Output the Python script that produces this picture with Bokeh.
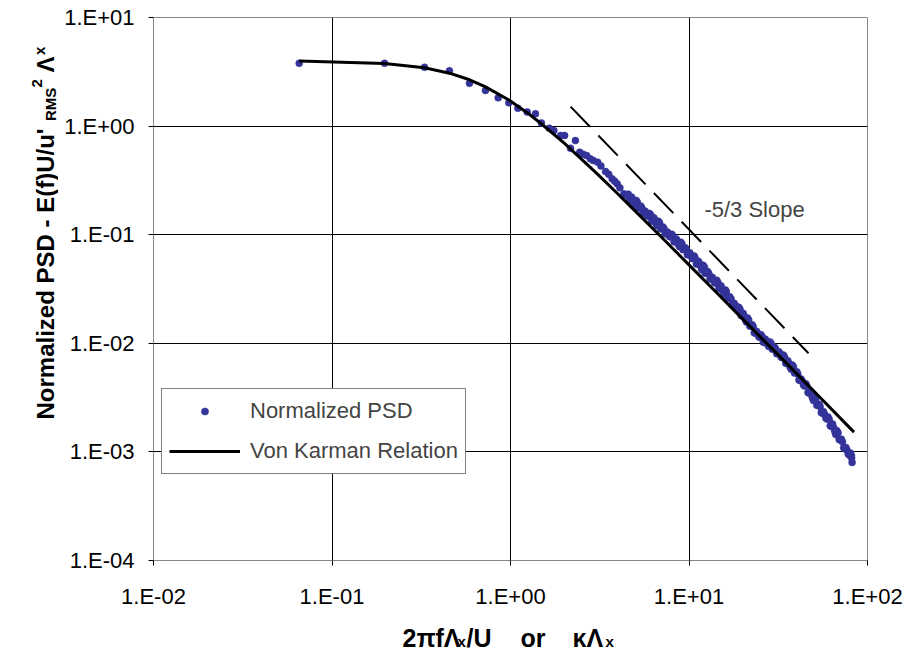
import math
from bokeh.plotting import figure
from bokeh.layouts import row, column
from bokeh.models import (Range1d, FixedTicker, CustomJSTickFormatter, Label, Legend, LegendItem)
from bokeh.embed import file_html
from bokeh.resources import INLINE

# ---------------- data ----------------
psd_x = [0.0655, 0.197, 0.330, 0.455, 0.589, 0.724, 0.853, 0.978, 1.10, 1.24,
         1.38, 1.49, 1.65, 1.75, 1.91, 2.01, 2.17, 2.31, 2.44, 2.55,
         2.67, 2.80, 2.91, 3.08, 3.21, 3.41, 3.55, 3.71, 3.84, 3.96,
         4.10, 4.32, 4.46,
         4.57, 4.70, 4.84, 4.98, 5.13, 5.28, 5.43, 5.59, 5.75, 5.92,
         6.10, 6.27, 6.46, 6.64, 6.84, 7.04, 7.24, 7.46, 7.67, 7.90,
         8.13, 8.37, 8.61, 8.86, 9.12, 9.39, 9.66, 9.94, 10.2, 10.5,
         10.8, 11.2, 11.5, 11.8, 12.2, 12.5, 12.9, 13.3, 13.6, 14.0,
         14.5, 14.9, 15.3, 15.8, 16.2, 16.7, 17.2, 17.7, 18.2, 18.7,
         19.3, 19.8, 20.4, 21.0, 21.6, 22.3, 22.9, 23.6, 24.3, 25.0,
         25.7, 26.5, 27.2, 28.0, 28.8, 29.7, 30.5, 31.4, 32.4, 33.3,
         34.3, 35.3, 36.3, 37.4, 38.5, 39.6, 40.7, 41.9, 43.2, 44.4,
         45.7, 47.0, 48.4, 49.8, 51.3, 52.8, 54.3, 55.9, 57.5, 59.2,
         61.0, 62.7, 64.6, 66.4, 68.4, 70.4, 72.4, 74.6, 76.7, 79.0,
         81.3, 81.5, 82.0,
         4.64, 4.77, 4.91, 5.06, 5.20, 5.36, 5.51, 5.67, 5.84, 6.01,
         6.18, 6.36, 6.55, 6.74, 6.94, 7.14, 7.35, 7.56, 7.78, 8.01,
         8.25, 8.49, 8.74, 8.99, 9.25, 9.52, 9.80, 10.1, 10.4, 10.7,
         11.0, 11.3, 11.7, 12.0, 12.3, 12.7, 13.1, 13.5, 13.9, 14.3,
         14.7, 15.1, 15.5, 16.0, 16.5, 16.9, 17.4, 17.9, 18.5, 19.0,
         19.6, 20.1, 20.7, 21.3, 21.9, 22.6, 23.2, 23.9, 24.6, 25.3,
         26.1, 26.8, 27.6, 28.4, 29.3, 30.1, 31.0, 31.9, 32.8, 33.8,
         34.8, 35.8, 36.8, 37.9, 39.0, 40.2, 41.3, 42.5, 43.8, 45.1,
         46.4, 47.7, 49.1, 50.6, 52.0, 53.6, 55.1, 56.7, 58.4, 60.1,
         61.8, 63.7, 65.5, 67.4, 69.4, 71.4, 73.5, 75.7, 77.9, 80.1]
psd_y = [3.79, 3.79, 3.48, 3.23, 2.48, 2.13, 1.82, 1.64, 1.46, 1.35,
         1.30, 1.07, 0.957, 0.91, 0.82, 0.82, 0.626, 0.736, 0.575, 0.55,
         0.536, 0.50, 0.482, 0.465, 0.43, 0.382, 0.36, 0.327, 0.31, 0.294,
         0.27, 0.238, 0.23,
         0.236, 0.208, 0.210, 0.188, 0.200, 0.178, 0.178, 0.159, 0.159, 0.148,
         0.152, 0.134, 0.135, 0.121, 0.129, 0.115, 0.114, 0.102, 0.102, 0.0951,
         0.0975, 0.0859, 0.0867, 0.0774, 0.0826, 0.0736, 0.0733, 0.0655, 0.0653, 0.0602,
         0.0612, 0.0536, 0.0537, 0.0476, 0.0504, 0.0446, 0.0441, 0.0390, 0.0389, 0.0359,
         0.0365, 0.0320, 0.0320, 0.0284, 0.0298, 0.0262, 0.0257, 0.0226, 0.0223, 0.0204,
         0.0206, 0.0179, 0.0178, 0.0157, 0.0164, 0.0144, 0.0142, 0.0124, 0.0123, 0.0113,
         0.0115, 0.0102, 0.0104, 0.00932, 0.00999, 0.00896, 0.00897, 0.00804, 0.00802, 0.00737,
         0.00747, 0.00653, 0.00652, 0.00576, 0.00607, 0.00537, 0.00522, 0.00455, 0.00446, 0.00404,
         0.00405, 0.00348, 0.00342, 0.00298, 0.00309, 0.00269, 0.00261, 0.00227, 0.00222, 0.00201,
         0.00200, 0.00172, 0.00168, 0.00145, 0.00150, 0.00129, 0.00124, 0.00107, 0.00104, 0.000935,
         0.000927, 0.00088, 0.00080,
         0.208, 0.222, 0.196, 0.207, 0.176, 0.184, 0.158, 0.165, 0.150, 0.157,
         0.134, 0.143, 0.126, 0.133, 0.113, 0.118, 0.102, 0.106, 0.0961, 0.101,
         0.0859, 0.0915, 0.0810, 0.0854, 0.0728, 0.0760, 0.0654, 0.0681, 0.0611, 0.0637,
         0.0538, 0.0569, 0.0500, 0.0523, 0.0442, 0.0459, 0.0392, 0.0406, 0.0364, 0.0380,
         0.0321, 0.0339, 0.0298, 0.0310, 0.0261, 0.0268, 0.0227, 0.0234, 0.0208, 0.0215,
         0.0180, 0.0189, 0.0165, 0.0171, 0.0144, 0.0148, 0.0125, 0.0129, 0.0115, 0.0120,
         0.0102, 0.0109, 0.00973, 0.0103, 0.00883, 0.00927, 0.00801, 0.00836, 0.00748, 0.00779,
         0.00656, 0.00692, 0.00605, 0.00632, 0.00533, 0.00548, 0.00460, 0.00469, 0.00413, 0.00424,
         0.00352, 0.00366, 0.00316, 0.00324, 0.00269, 0.00274, 0.00230, 0.00234, 0.00205, 0.00210,
         0.00174, 0.00181, 0.00155, 0.00157, 0.00130, 0.00131, 0.00109, 0.00110, 0.000961, 0.000977]

vk_x = [0.0655, 0.197, 0.33, 0.455, 0.59, 0.72, 0.98, 1.24, 1.5, 2.0,
        3.0, 4.0, 5.0, 7.0, 10.0, 15.0, 20.0, 30.0, 50.0, 84.0]
vk_y = [3.97, 3.78, 3.45, 3.07, 2.67, 2.31, 1.74, 1.33, 1.04, 0.696,
        0.375, 0.237, 0.165, 0.0952, 0.0528, 0.0270, 0.0167, 0.00851, 0.00364, 0.00152]

slope_x = [2.17, 46.7]
slope_y = [1.51, 0.0081]

x_ticks = [0.01, 0.1, 1, 10, 100]
y_ticks = [0.0001, 0.001, 0.01, 0.1, 1, 10]

series_names = ["Normalized PSD", "Von Karman Relation"]
slope_text = "-5/3 Slope"

FONT = "Liberation Sans"
TICK_FS = "22px"
TEXT_FS = "22px"
YT_FS = "24px"
XT_FS = "25px"
SMALL_FS = "15px"

W_TOTAL = 905
W_LEFT = 58
H_MAIN = 612
H_BOTTOM = 42
H_TOTAL = H_MAIN + H_BOTTOM

p = figure(width=W_TOTAL - W_LEFT, height=H_MAIN, x_axis_type="log", y_axis_type="log",
           x_range=Range1d(0.01, 100), y_range=Range1d(0.0001, 10),
           output_backend="svg", toolbar_location=None, title=None,
           min_border_left=153 - W_LEFT, min_border_right=W_TOTAL - 867,
           min_border_top=17, min_border_bottom=H_MAIN - 560)

p.background_fill_color = "white"
p.border_fill_color = "white"
p.outline_line_color = "#868686"
p.outline_line_width = 1

fmt = CustomJSTickFormatter(code="""
const e = Math.round(Math.log10(tick));
const a = Math.abs(e);
return "1.E" + (e < 0 ? "-" : "+") + (a < 10 ? "0" : "") + a;
""")

for ax, ticks in ((p.xaxis, x_ticks), (p.yaxis, y_ticks)):
    ax.ticker = FixedTicker(ticks=ticks)
    ax.formatter = fmt
    ax.minor_tick_line_color = None
    ax.major_tick_in = 0
    ax.major_tick_out = 5
    ax.major_tick_line_color = "black"
    ax.axis_line_color = "#868686"
    ax.major_label_text_font = FONT
    ax.major_label_text_font_size = TICK_FS
    ax.major_label_text_color = "black"
p.xaxis.major_label_standoff = 18
p.yaxis.major_label_standoff = 14

p.xgrid.ticker = FixedTicker(ticks=x_ticks)
p.ygrid.ticker = FixedTicker(ticks=y_ticks)
for g in (p.xgrid, p.ygrid):
    g.grid_line_color = "black"
    g.grid_line_width = 1
    g.grid_line_alpha = 1.0

# -5/3 reference slope
p.line(slope_x, slope_y, line_color="black", line_width=2, line_dash="28 12")

pts = p.scatter(psd_x, psd_y, marker="circle", size=7, fill_color="#333399",
                line_color="#333399", line_width=0.5)
vk = p.line(vk_x, vk_y, line_color="black", line_width=3)

p.add_layout(Label(x=12.2, y=0.1706, text=slope_text, text_font=FONT,
                   text_font_size=TEXT_FS, text_baseline="middle", text_align="left"))

legend = Legend(items=[LegendItem(label=series_names[0], renderers=[pts]),
                       LegendItem(label=series_names[1], renderers=[vk])],
                location=(8, 86), orientation="vertical",
                glyph_width=71, glyph_height=18, label_height=30, label_standoff=10,
                padding=7, spacing=10, margin=0,
                border_line_color="black", border_line_width=1,
                background_fill_color="white", background_fill_alpha=1.0,
                label_text_font=FONT, label_text_font_size=TEXT_FS,
                label_text_baseline="middle")
p.add_layout(legend)


def side_fig(w, h, xr, yr):
    f = figure(width=w, height=h, x_range=xr, y_range=yr,
               output_backend="svg", toolbar_location=None, title=None,
               x_axis_type=None, y_axis_type=None,
               min_border_left=0, min_border_right=0, min_border_top=0, min_border_bottom=0)
    f.outline_line_color = None
    f.background_fill_color = "white"
    f.border_fill_color = "white"
    f.grid.visible = False
    return f


def lab(x, y, text, size, angle=0.0):
    return Label(x=x, y=y, text=text, angle=angle, text_font=FONT,
                 text_font_size=size, text_font_style="bold", text_align="left",
                 text_baseline="alphabetic", text_color="black")


# ---- y axis title: its frame is aligned with the main frame (page y 17..560),
#      so the range is set so that data units equal page pixels ----
yt = side_fig(W_LEFT, H_MAIN, Range1d(0, W_LEFT), Range1d(560, 17))
A = math.pi / 2
bx = 45
yt.add_layout(lab(bx, 419, "Normalized PSD -  E(f)U/u'", YT_FS, A))
yt.add_layout(lab(bx + 5, 120.5, "RMS", SMALL_FS, A))
yt.add_layout(lab(bx - 9, 87, "2", SMALL_FS, A))
yt.add_layout(lab(bx, 72, "\u039b", YT_FS, A))
yt.add_layout(lab(bx - 6, 54.5, "x", SMALL_FS, A))

# ---- x axis title ----
xt = side_fig(W_TOTAL, H_BOTTOM, Range1d(0, W_TOTAL), Range1d(H_TOTAL, H_MAIN))
by = 637
xt.add_layout(lab(402, by, "2\u03c0f\u039b", XT_FS))
xt.add_layout(lab(457, by + 4, "x", SMALL_FS))
xt.add_layout(lab(466, by, "/U", XT_FS))
xt.add_layout(lab(520, by, "or", XT_FS))
xt.add_layout(lab(572, by, "\u03ba\u039b", XT_FS))
xt.add_layout(lab(605, by + 4, "x", SMALL_FS))

layout = column(row(yt, p), xt)
open("out.html", "w").write(file_html(layout, INLINE))
